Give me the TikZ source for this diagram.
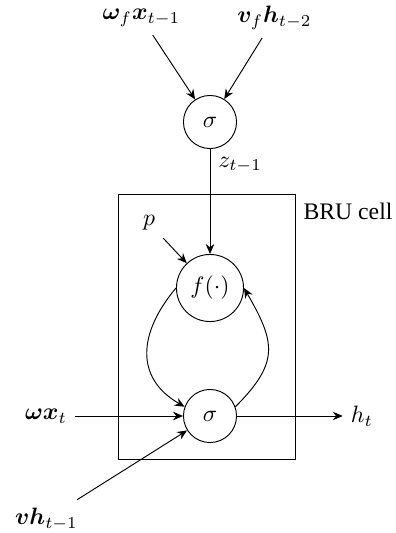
\documentclass[tikz,border=0pt]{standalone}
\usepackage[no-math]{fontspec}
\setmainfont{Liberation Serif}
\usepackage{bm}
\usetikzlibrary{arrows.meta}
\begin{document}
\begin{tikzpicture}[x=0.4219pt,y=-0.4219pt,
  >={Stealth[length=4.2pt,width=3.6pt,inset=1.4pt]},
  every path/.style={line width=0.4pt},
  unit/.style={draw,circle,inner sep=0pt,minimum size=22.4pt},
  fbox/.style={draw,circle,inner sep=0pt,minimum size=28.3pt},
  lbl/.style={inner sep=3.3pt},
  conn/.style={->}]
\useasboundingbox (0,0) rectangle (396,533);
% nodes
\node[unit] (s1) at (210,122) {$\sigma$};
\node[fbox] (f) at (210,288) {$f(\cdot)$};
\node[unit] (s2) at (210,416) {$\sigma$};
\node[lbl] (wf) at (141.5,18) {$\bm{\omega}_f\bm{x}_{t-1}$};
\node[lbl] (vf) at (274.5,18) {$\bm{v}_f\bm{h}_{t-2}$};
\node[lbl] (p) at (149,223) {$p$};
\node[lbl] (wx) at (46,416) {$\bm{\omega}\bm{x}_t$};
\node[lbl] (ht) at (362,416) {$h_t$};
\node[lbl] (vh) at (46.5,519) {$\bm{v}\bm{h}_{t-1}$};
\node[lbl] (cell) at (348,211) {BRU cell};
% box
\coordinate (bnw) at (118,194);
\coordinate (bse) at (295,459);
\draw (bnw) rectangle (bse);
% connectors
\draw[conn] (wf) -- (s1);
\draw[conn] (vf) -- (s1);
\draw[conn] (s1) -- node[right,pos=0.15,inner sep=3.3pt] {$z_{t-1}$} (f);
\draw[conn] (p) -- (f);
\draw[conn] (f.west) to[out=230,in=150,looseness=1.25] (s2.160);
\draw[conn] (s2.20) to[out=45,in=-60,looseness=1.35] (f.east);
\draw[conn] (wx) -- (s2);
\draw[conn] (vh) -- (s2);
\draw[conn] (s2) -- (ht);
\end{tikzpicture}
\end{document}
